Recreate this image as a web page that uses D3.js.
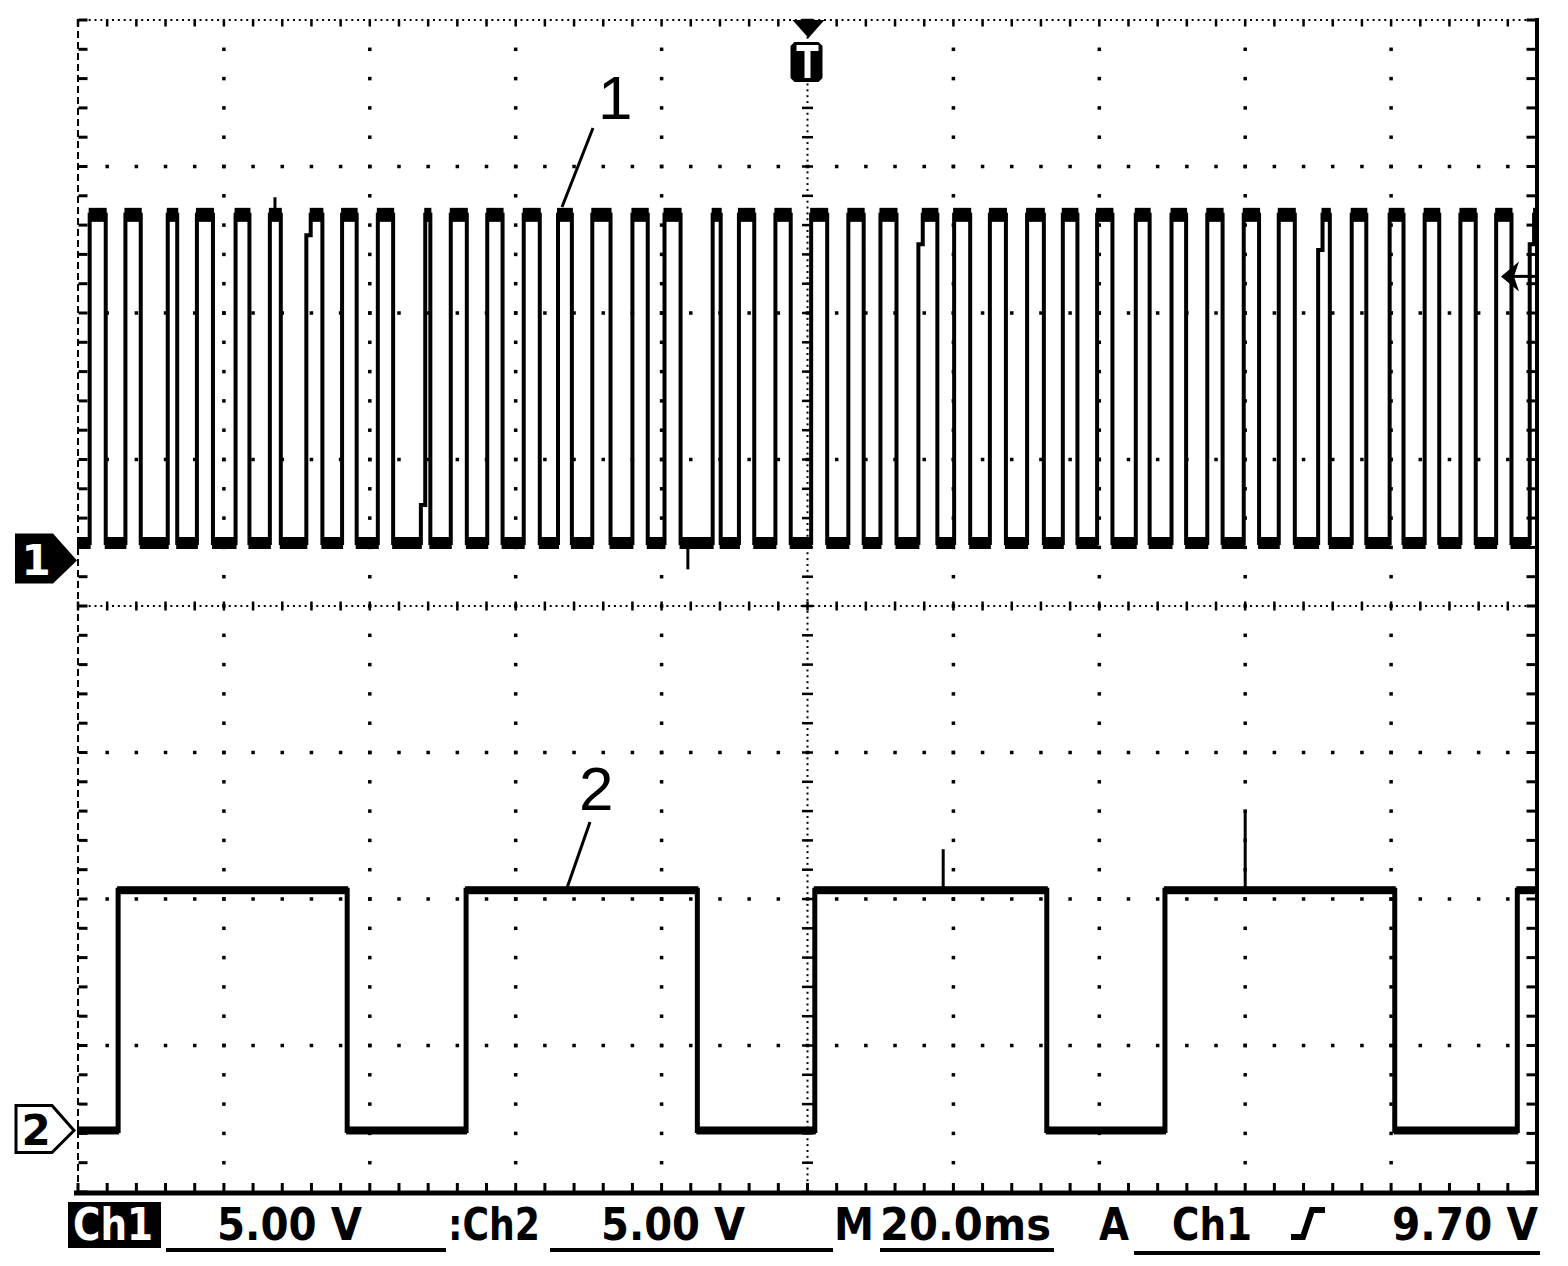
<!DOCTYPE html>
<html>
<head>
<meta charset="utf-8">
<script src="https://cdn.jsdelivr.net/npm/d3@7"></script>
<style>
  body { margin: 0; background: #fff; }
  svg { display: block; }
</style>
</head>
<body>
<script>
//scope settings
var msPerDiv = 20;
var ch1VoltsPerDiv = 5;
var ch2VoltsPerDiv = 5;
var trigLevel = 9.70;
var ch1Offset = 0.31;    // ground marker, divisions above centre
var ch2Offset = -3.58;

//Ch1 pulse train, edges in ms from trigger
var ch1Rise = [-98.4, -93.5, -87.7, -83.7, -78.4, -73.7, -68.7, -63.8, -58.9, -53.0,
               -48.9, -43.9, -38.9, -34.2, -29.5, -24.0, -19.6, -13.0, -9.4, -4.4,
               0.5, 5.6, 10.0, 15.2, 20.1, 25.0, 30.1, 35.0, 39.7, 45.0,
               49.9, 54.8, 59.8, 64.6, 70.0, 74.6, 79.8, 84.6, 89.5, 94.4, 99.0];
var ch1Fall = [-96.2, -91.4, -86.4, -81.5, -76.5, -72.2, -66.5, -61.8, -56.8, -51.7,
               -46.7, -41.8, -36.7, -32.3, -27.0, -21.9, -17.4, -11.9, -7.3, -2.3,
               2.7, 7.7, 12.2, 17.8, 22.3, 27.2, 32.4, 37.0, 41.8, 46.9,
               51.9, 56.9, 61.9, 66.8, 71.6, 76.6, 81.7, 86.6, 91.6, 96.5];
var ch1Low = 0.6;
var ch1High = 11.8;
// rising edges that stall part way: [rise time, stall level V]
var ch1Steps = [[-68.7, 11.1], [-53.0, 1.9], [15.2, 10.8], [70.0, 10.6], [99.0, 10.8]];
// glitches: [time, peak V]
var ch1Spikes = [[-73.0, 12.4], [-16.4, -0.3]];

//Ch2 square wave
var ch2Rise = [-94.5, -46.8, 1.0, 49.0, 97.3];
var ch2Fall = [-63.1, -15.1, 32.8, 80.5];
var ch2Low = 0.0;
var ch2High = 8.2;
var ch2Spikes = [[18.6, 9.6], [60.0, 10.9]];

var width = 1568, height = 1266;
var scrLeft = 78, scrRight = 1537, scrTop = 20, scrBottom = 1192;

var svg = d3.select("body").append("svg")
    .attr("width", width)
    .attr("height", height);

svg.append("rect").attr("width", width).attr("height", height).attr("fill", "#fff");

var x = d3.scaleLinear().domain([-5 * msPerDiv, 5 * msPerDiv]).range([scrLeft, scrRight]);
var y = d3.scaleLinear().domain([-4, 4]).range([scrBottom, scrTop]);

function chY(offset, vpd) {
    return function(v) { return y(offset + v / vpd); };
}
var y1 = chY(ch1Offset, ch1VoltsPerDiv);
var y2 = chY(ch2Offset, ch2VoltsPerDiv);

// ---------- graticule ----------
var grid = svg.append("g").attr("fill", "#000");
var tMin = -5 * msPerDiv, tMax = 5 * msPerDiv;
var minorT = d3.range(tMin, tMax + 0.001, msPerDiv / 5);
var fineT = d3.range(tMin, tMax + 0.001, msPerDiv / 25);
var minorD = d3.range(-4, 4.0001, 0.2);
var fineD = d3.range(-4, 4.0001, 0.04);
var majorTIn = [-80, -60, -40, -20, 20, 40, 60, 80];
var majorDIn = [-3, -2, -1, 1, 2, 3];

function dots(pts, w, h) {
    grid.selectAll(null).data(pts).enter().append("rect")
        .attr("x", d => d[0] - w / 2)
        .attr("y", d => d[1] - h / 2)
        .attr("width", w)
        .attr("height", h);
}

// dotted interior lines
var vPts = [];
majorTIn.forEach(function(t) {
    minorD.slice(1, -1).forEach(function(d) { vPts.push([x(t), y(d)]); });
});
dots(vPts, 3.5, 3.5);
var hPts = [];
majorDIn.forEach(function(d) {
    minorT.slice(1, -1).forEach(function(t) { hPts.push([x(t), y(d)]); });
});
dots(hPts, 3.5, 3.5);

// centre cross, fine dotted with ticks
dots(fineT.map(t => [x(t), y(0)]), 2, 2);
dots(minorT.map(t => [x(t), y(0)]), 2.5, 9);
dots(fineD.map(d => [x(0), y(d)]), 2, 2);
dots(minorD.map(d => [x(0), y(d)]), 11, 2.5);

// top edge
dots(fineT.map(t => [x(t), y(4)]), 2, 2);
dots(minorT.map(t => [x(t), y(4) + 3]), 2.5, 7);

// left edge dashed
grid.append("line")
    .attr("x1", scrLeft).attr("x2", scrLeft)
    .attr("y1", scrTop).attr("y2", scrBottom)
    .attr("stroke", "#000").attr("stroke-width", 2)
    .attr("stroke-dasharray", "7,4");
dots(minorD.map(d => [scrLeft + 5, y(d)]), 9, 3);

// right edge solid
grid.append("line")
    .attr("x1", scrRight).attr("x2", scrRight)
    .attr("y1", scrTop - 2).attr("y2", scrBottom + 2)
    .attr("stroke", "#000").attr("stroke-width", 4);
dots(minorD.map(d => [scrRight - 6, y(d)]), 9, 3);

// bottom edge solid
grid.append("line")
    .attr("x1", scrLeft - 4).attr("x2", scrRight + 2)
    .attr("y1", scrBottom + 1).attr("y2", scrBottom + 1)
    .attr("stroke", "#000").attr("stroke-width", 5);
dots(minorT.map(t => [x(t), scrBottom - 5]), 3, 8);

// ---------- traces ----------
function levelAt(rise, fall, t, lo, hi) {
    for (var i = 0; i < rise.length; i++) {
        var f = i < fall.length ? fall[i] : tMax;
        if (t >= rise[i] && t <= f) return hi;
    }
    return lo;
}

function buildTrace(rise, fall, lo, hi, steps) {
    var pts = [[tMin, lo]];
    rise.forEach(function(t, i) {
        pts.push([t, lo]);
        var s = steps.find(d => d[0] === t);
        if (s) {
            pts.push([t, s[1]], [t + 0.6, s[1]], [t + 0.6, hi]);
        } else {
            pts.push([t, hi]);
        }
        if (i < fall.length) pts.push([fall[i], hi], [fall[i], lo]);
        else pts.push([tMax, hi]);
    });
    if (fall.length >= rise.length) pts.push([tMax, lo]);
    return pts;
}

function plateaus(rise, fall, lo, hi, steps) {
    var segs = [];
    var prev = tMin;
    rise.forEach(function(t, i) {
        segs.push([prev, t, lo]);
        var s = steps.find(d => d[0] === t);
        var start = s ? t + 0.6 : t;
        var f = i < fall.length ? fall[i] : tMax;
        segs.push([start, f, hi]);
        prev = f;
    });
    if (fall.length >= rise.length) segs.push([prev, tMax, lo]);
    return segs;
}

function drawChannel(rise, fall, lo, hi, steps, spikes, yc, band, sw) {
    var g = svg.append("g");
    var line = d3.line().x(d => x(d[0])).y(d => yc(d[1])).curve(d3.curveLinear);
    g.append("path")
        .datum(buildTrace(rise, fall, lo, hi, steps))
        .attr("d", line)
        .attr("fill", "none")
        .attr("stroke", "#000")
        .attr("stroke-width", sw)
        .attr("stroke-linejoin", "miter");

    g.selectAll(".plat")
        .data(plateaus(rise, fall, lo, hi, steps))
        .enter().append("rect")
        .attr("class", "plat")
        .attr("x", d => x(d[0]) - 1)
        .attr("width", d => Math.max(0, x(d[1]) - x(d[0]) + 2))
        .attr("y", d => yc(d[2]) - (d[2] === hi ? band[0] : band[1]) / 2)
        .attr("height", d => d[2] === hi ? band[0] : band[1])
        .attr("fill", "#000");

    g.selectAll(".spike")
        .data(spikes)
        .enter().append("line")
        .attr("x1", d => x(d[0])).attr("x2", d => x(d[0]))
        .attr("y1", d => yc(levelAt(rise, fall, d[0], lo, hi)))
        .attr("y2", d => yc(d[1]))
        .attr("stroke", "#000")
        .attr("stroke-width", 3);
}

drawChannel(ch1Rise, ch1Fall, ch1Low, ch1High, ch1Steps, ch1Spikes, y1, [14, 12], 4);
drawChannel(ch2Rise, ch2Fall, ch2Low, ch2High, [], ch2Spikes, y2, [8, 8], 5);

// ---------- callout numbers ----------
svg.append("text")
    .attr("x", 598).attr("y", 119)
    .style("font-family", "'Liberation Sans', Arial, sans-serif")
    .style("font-size", "62px")
    .text("1");
svg.append("line")
    .attr("x1", 593).attr("y1", 128).attr("x2", 562).attr("y2", 207)
    .attr("stroke", "#000").attr("stroke-width", 3);

svg.append("text")
    .attr("x", 579).attr("y", 810)
    .style("font-family", "'Liberation Sans', Arial, sans-serif")
    .style("font-size", "62px")
    .text("2");
svg.append("line")
    .attr("x1", 590).attr("y1", 822).attr("x2", 567).attr("y2", 888)
    .attr("stroke", "#000").attr("stroke-width", 3);

// ---------- markers ----------
// Ch1 ground marker
var g1y = y1(0);
svg.append("path")
    .attr("d", "M15," + (g1y - 27) + " L53," + (g1y - 27) + " L77," + g1y +
               " L53," + (g1y + 23) + " L15," + (g1y + 23) + " Z")
    .attr("fill", "#000");
svg.append("text")
    .attr("x", 36).attr("y", g1y + 14)
    .attr("text-anchor", "middle")
    .attr("fill", "#fff")
    .style("font-family", "'DejaVu Sans', sans-serif")
    .style("font-weight", "bold")
    .style("font-size", "42px")
    .text("1");

// Ch2 ground marker
var g2y = y2(0);
svg.append("path")
    .attr("d", "M16," + (g2y - 25) + " L52," + (g2y - 25) + " L74," + g2y +
               " L52," + (g2y + 22) + " L16," + (g2y + 22) + " Z")
    .attr("fill", "#fff")
    .attr("stroke", "#000")
    .attr("stroke-width", 3);
svg.append("text")
    .attr("x", 36).attr("y", g2y + 15)
    .attr("text-anchor", "middle")
    .attr("fill", "#000")
    .style("font-family", "'DejaVu Sans', sans-serif")
    .style("font-weight", "bold")
    .style("font-size", "42px")
    .text("2");

// trigger position marker
var tx = x(0);
svg.append("path")
    .attr("d", "M" + (tx - 15) + "," + scrTop + " L" + (tx + 17) + "," + scrTop + " L" + (tx + 1) + ",38 Z")
    .attr("fill", "#000");
svg.append("path")
    .attr("d", "M" + (tx - 17) + ",46 L" + (tx - 13) + ",42 L" + (tx + 11) + ",42 L" + (tx + 15) + ",46" +
               " L" + (tx + 15) + ",78 L" + (tx + 11) + ",82 L" + (tx - 13) + ",82 L" + (tx - 17) + ",78 Z")
    .attr("fill", "#000");
svg.append("path")
    .attr("d", "M" + (tx - 11) + ",45 H" + (tx + 11) + " V51 H" + (tx + 3) + " V78 H" + (tx - 3) + " V51 H" + (tx - 11) + " Z")
    .attr("fill", "#fff");

// trigger level arrow
var ty = y1(trigLevel);
svg.append("line")
    .attr("x1", 1512).attr("x2", scrRight).attr("y1", ty).attr("y2", ty)
    .attr("stroke", "#000").attr("stroke-width", 3);
svg.append("path")
    .attr("d", "M1501," + ty + " L1519," + (ty - 15) + " L1514," + ty + " L1519," + (ty + 15) + " Z")
    .attr("fill", "#000");

// ---------- readout ----------
var fmtV = d3.format(".2f");
var readoutText = ["Ch1", fmtV(ch1VoltsPerDiv) + " V", ":Ch2", fmtV(ch2VoltsPerDiv) + " V",
                   "M", d3.format(".1f")(msPerDiv) + "ms", "A", "Ch1", fmtV(trigLevel) + " V"];
var readoutX = [73, 217, 448, 601, 834, 880, 1099, 1172, 1392];
var readoutW = [80, 145, 92, 144, 40, 171, 30, 80, 146];
var baseline = 1240;

svg.append("rect")
    .attr("x", 68).attr("y", 1202).attr("width", 93).attr("height", 46)
    .attr("fill", "#000");

svg.selectAll(".readout")
    .data(readoutText)
    .enter().append("text")
    .attr("class", "readout")
    .attr("x", (d, i) => readoutX[i])
    .attr("y", baseline)
    .attr("textLength", (d, i) => readoutW[i])
    .attr("lengthAdjust", "spacingAndGlyphs")
    .attr("fill", (d, i) => i === 0 ? "#fff" : "#000")
    .style("font-family", "'DejaVu Sans', sans-serif")
    .style("font-weight", "bold")
    .style("font-size", "45px")
    .text(d => d);

// underlines
var underlines = [[166, 446, 1248], [550, 833, 1248], [880, 1054, 1248], [1134, 1540, 1251]];
svg.selectAll(".ul")
    .data(underlines)
    .enter().append("rect")
    .attr("x", d => d[0])
    .attr("y", d => d[2])
    .attr("width", d => d[1] - d[0])
    .attr("height", 4)
    .attr("fill", "#000");

// rising slope glyph
svg.append("path")
    .attr("d", "M1291,1237 H1303 L1312,1210 H1325")
    .attr("fill", "none")
    .attr("stroke", "#000")
    .attr("stroke-width", 6);
</script>
</body>
</html>
